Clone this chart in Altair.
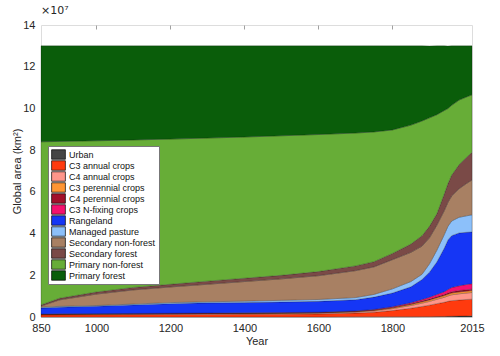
import altair as alt
import pandas as pd

# Years sampled along the x axis
years = [850, 900, 1000, 1100, 1200, 1300, 1400, 1500, 1600, 1700, 1750,
         1800, 1850, 1880, 1900, 1920, 1940, 1950, 1960, 1980, 2000, 2015]

# Layer thicknesses (units of 1e7 km^2), bottom to top
urban        = [0.003, 0.003, 0.003, 0.004, 0.004, 0.004, 0.005, 0.005, 0.006, 0.007, 0.008,
                0.010, 0.012, 0.015, 0.018, 0.020, 0.025, 0.030, 0.035, 0.042, 0.050, 0.055]
c3_annual    = [0.095, 0.100, 0.105, 0.110, 0.115, 0.120, 0.125, 0.130, 0.140, 0.180, 0.220,
                0.300, 0.410, 0.490, 0.550, 0.620, 0.680, 0.720, 0.750, 0.770, 0.790, 0.800]
c4_annual    = [0.020, 0.022, 0.024, 0.026, 0.028, 0.030, 0.032, 0.034, 0.038, 0.050, 0.065,
                0.090, 0.130, 0.160, 0.180, 0.210, 0.240, 0.260, 0.280, 0.300, 0.310, 0.320]
c3_perennial = [0.010, 0.011, 0.012, 0.013, 0.014, 0.015, 0.016, 0.017, 0.019, 0.024, 0.030,
                0.040, 0.055, 0.065, 0.070, 0.075, 0.080, 0.082, 0.085, 0.088, 0.090, 0.090]
c4_perennial = [0.005, 0.005, 0.006, 0.006, 0.007, 0.007, 0.008, 0.008, 0.009, 0.012, 0.015,
                0.020, 0.028, 0.035, 0.040, 0.045, 0.050, 0.055, 0.060, 0.065, 0.070, 0.070]
c3_nfixing   = [0.007, 0.009, 0.010, 0.011, 0.012, 0.014, 0.014, 0.016, 0.018, 0.018, 0.025,
                0.035, 0.050, 0.070, 0.090, 0.110, 0.140, 0.170, 0.200, 0.230, 0.250, 0.260]
rangeland    = [0.29, 0.32, 0.36, 0.41, 0.46, 0.49, 0.49, 0.51, 0.52, 0.54, 0.59,
                0.655, 0.765, 0.965, 1.20, 1.56, 2.085, 2.38, 2.49, 2.535, 2.50, 2.485]
pasture      = [0.04, 0.04, 0.03, 0.04, 0.05, 0.05, 0.07, 0.08, 0.09, 0.10, 0.13,
                0.20, 0.25, 0.25, 0.40, 0.56, 0.65, 0.65, 0.70, 0.75, 0.79, 0.82]
sec_nonforest = [0.05, 0.31, 0.55, 0.68, 0.75, 0.84, 0.94, 1.03, 1.14, 1.29, 1.32,
                 1.40, 1.40, 1.35, 1.25, 1.20, 1.15, 1.15, 1.20, 1.37, 1.55, 1.67]
sec_forest   = [0.06, 0.08, 0.10, 0.12, 0.13, 0.15, 0.16, 0.17, 0.20, 0.23, 0.25,
                0.30, 0.40, 0.50, 0.55, 0.55, 0.80, 0.90, 1.00, 1.15, 1.25, 1.33]
prim_nonforest = [7.82, 7.52, 7.25, 7.07, 6.96, 6.86, 6.77, 6.69, 6.57, 6.37, 6.22,
                  5.92, 5.70, 5.50, 5.20, 4.75, 4.00, 3.60, 3.35, 3.10, 2.90, 2.75]
prim_forest  = [4.60, 4.58, 4.55, 4.51, 4.47, 4.42, 4.37, 4.31, 4.25, 4.18, 4.13,
                4.03, 3.80, 3.60, 3.45, 3.30, 3.10, 3.00, 2.85, 2.60, 2.45, 2.35]

categories = ["Urban", "C3 annual crops", "C4 annual crops", "C3 perennial crops",
              "C4 perennial crops", "C3 N-fixing crops", "Rangeland", "Managed pasture",
              "Secondary non-forest", "Secondary forest", "Primary non-forest",
              "Primary forest"]
series = [urban, c3_annual, c4_annual, c3_perennial, c4_perennial, c3_nfixing,
          rangeland, pasture, sec_nonforest, sec_forest, prim_nonforest, prim_forest]
colors = ["#454545", "#FF3A0E", "#FF968A", "#FF9533", "#A3102A", "#F5116E",
          "#1536F5", "#8CC0FA", "#A88063", "#7A4A47", "#67AD37", "#0A5D0A"]

x_ticks = [850, 1000, 1200, 1400, 1600, 1800, 2015]
top_ticks = [1000, 1200, 1400, 1600, 1800]
y_ticks = [0, 2, 4, 6, 8, 10, 12, 14]

rows = []
for i, (cat, vals) in enumerate(zip(categories, series)):
    for yr, v in zip(years, vals):
        rows.append({"Year": yr, "category": cat, "value": v, "idx": i})
df = pd.DataFrame(rows)
df_top = pd.DataFrame({"Year": top_ticks})

FONT = "Liberation Sans"
xscale = alt.Scale(domain=[850, 2015], nice=False, zero=False)

areas = alt.Chart(df).mark_area(
    stroke="#000000", strokeWidth=0.4, strokeOpacity=0.55, opacity=1
).encode(
    x=alt.X("Year:Q", scale=xscale,
            axis=alt.Axis(values=x_ticks, title="Year", format="d", ticks=False,
                          domain=False, grid=False, labelFontSize=11, labelPadding=5,
                          labelFlush=False,
                          labelColor="#262626", titleColor="#262626", titleFontSize=11,
                          titleFontWeight="normal", titlePadding=2, labelFont=FONT,
                          titleFont=FONT)),
    y=alt.Y("value:Q", stack="zero",
            scale=alt.Scale(domain=[0, 14], nice=False),
            axis=alt.Axis(values=y_ticks, title="Global area (km²)", ticks=False,
                          domain=False, grid=False, labelFontSize=11, labelPadding=6,
                          labelColor="#262626", titleColor="#262626", titleFontSize=11,
                          titleFontWeight="normal", titlePadding=0, labelFont=FONT,
                          titleFont=FONT)),
    color=alt.Color("category:N",
                    scale=alt.Scale(domain=categories, range=colors),
                    title=None,
                    legend=alt.Legend(orient="none", legendX=7, legendY=121,
                                      fillColor="white", strokeColor="#777777",
                                      padding=3, labelFont=FONT, labelFontSize=9,
                                      labelColor="#111111", labelOffset=5,
                                      symbolType="M-1.45,-1H1.45V1H-1.45Z",
                                      symbolSize=90, symbolStrokeColor="#000000",
                                      symbolStrokeWidth=0.7, symbolOpacity=1,
                                      symbolOffset=2, clipHeight=11,
                                      rowPadding=0, labelLimit=200)),
    order=alt.Order("idx:Q", sort="ascending"),
)

top_axis = alt.Chart(df_top).mark_rule(opacity=0).encode(
    x=alt.X("Year:Q", scale=xscale,
            axis=alt.Axis(orient="top", values=top_ticks, labels=False, ticks=True,
                          tickSize=4, offset=-4, domain=False, grid=False, title=None,
                          tickColor="#a0a0a0", tickWidth=1))
)

chart = alt.layer(areas, top_axis).resolve_axis(x="independent").properties(
    width=431, height=292,
    title=alt.TitleParams("×10⁷", anchor="start", frame="group", offset=3,
                          fontSize=11, fontWeight="normal", color="#262626",
                          font="DejaVu Sans"),
    autosize=alt.AutoSizeParams(type="none"),
    padding={"left": 41, "top": 25, "right": 28, "bottom": 39},
).configure_view(stroke="#b5b5b5", strokeWidth=1).configure(background="white")

chart.save("out.html", embed_options={"renderer": "svg", "actions": False})
